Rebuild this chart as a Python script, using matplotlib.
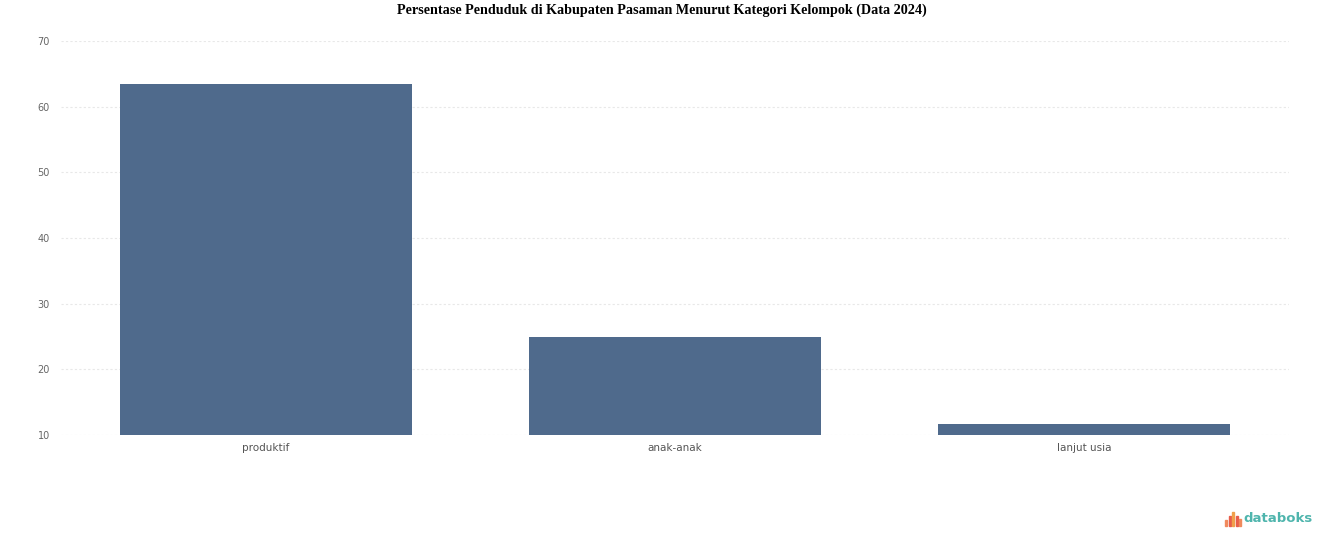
import matplotlib.pyplot as plt
from matplotlib.patches import Rectangle

kategori = ['produktif', 'anak-anak', 'lanjut usia']
persen = [63.4, 24.9, 11.7]
y_ticks = [10, 20, 30, 40, 50, 60, 70]

fig = plt.figure(figsize=(13.24, 5.47), dpi=100)
ax = fig.add_axes([61 / 1324, 1 - 435 / 547, (1289 - 61) / 1324, (435 - 41) / 547])

x = range(len(kategori))
ax.bar(x, persen, width=0.713, bottom=0, color='#4f6a8c', zorder=3)
ax.set_xlim(-0.5, len(kategori) - 0.5)
ax.set_ylim(10, 70)
ax.set_yticks(y_ticks)
ax.set_yticklabels([str(t) for t in y_ticks], fontsize=7, color='#666666')
ax.set_xticks(list(x))
ax.set_xticklabels(kategori, fontsize=7.5, color='#555555')
ax.tick_params(length=0, pad=6)
ax.tick_params(axis='y', pad=8)
ax.grid(axis='y', color='#e8e8e8', linestyle=(0, (2, 2)), linewidth=0.8, zorder=0)
for s in ax.spines.values():
    s.set_visible(False)

fig.text(0.5, 1 - 10 / 547, 'Persentase Penduduk di Kabupaten Pasaman Menurut Kategori Kelompok (Data 2024)',
         ha='center', va='center', fontsize=10.2, fontweight='bold', family='Liberation Serif')

# logo databoks
fig.text(1243 / 1324, 1 - 519 / 547, 'databoks', ha='left', va='center', fontsize=9.5,
         fontweight='bold', color='#4fb5ad', family='DejaVu Sans')
warna_ikon = ['#f08a5d', '#e85d4a', '#f0a04b', '#e85d4a', '#f08a5d']
tinggi_ikon = [6, 10, 14, 10, 7]
for i, (w, h) in enumerate(zip(warna_ikon, tinggi_ikon)):
    fig.patches.append(Rectangle(((1225 + i * 3.5) / 1324, (547 - 526) / 547), 2 / 1324, h / 547,
                                 transform=fig.transFigure, color=w))

fig.savefig('out.png', dpi=100, facecolor='white')
